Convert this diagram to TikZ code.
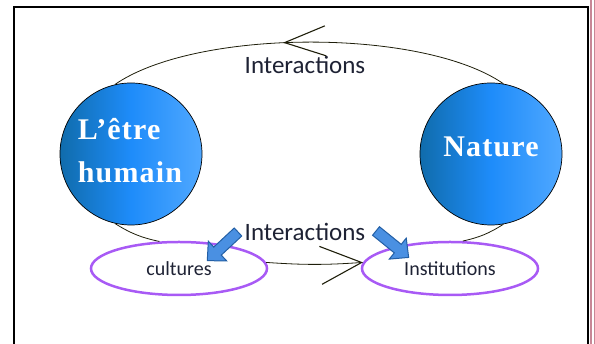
\documentclass[tikz,border=0pt]{standalone}
\usepackage{fontspec}
\setmainfont{Carlito}
\newfontfamily\titlefont{Liberation Serif}[LetterSpace=4]
\usetikzlibrary{shapes.geometric,arrows.meta,decorations.markings}
\definecolor{bdark}{RGB}{16,108,172}
\definecolor{bmid}{RGB}{30,140,250}
\definecolor{blight}{RGB}{80,168,255}
\definecolor{ellcol}{RGB}{168,90,245}
\definecolor{txtcol}{RGB}{30,34,52}
\definecolor{arrfill}{RGB}{74,144,226}
\definecolor{arrdraw}{RGB}{35,95,165}
\definecolor{pinkline}{RGB}{200,135,150}
\definecolor{loopcol}{RGB}{30,30,10}
\begin{document}
\begin{tikzpicture}[x=1pt,y=1pt,
  bigcirc/.style={circle, draw=black, line width=0.7pt, minimum size=142pt, inner sep=0pt,
    left color=bdark, right color=blight, middle color=bmid},
  circtext/.style={text=white, inner sep=0pt, font=\titlefont\bfseries\fontsize{30}{43}\selectfont},
  ellnode/.style={ellipse, draw=ellcol, line width=2.5pt, minimum width=176pt, minimum height=53pt,
    inner sep=0pt, text=txtcol, font=\fontsize{20}{24}\selectfont},
  lbl/.style={text=txtcol, font=\fontsize{25}{30}\selectfont, inner sep=0pt},
  loopline/.style={draw=loopcol, line width=0.8pt},
  blockfill/.style={draw=arrdraw, fill=arrfill, line width=1pt, line join=miter},
  blockarr/.pic={\draw[blockfill] (0,-5.5) -- (28,-5.5) -- (28,-13.5) -- (42,0)
      -- (28,13.5) -- (28,5.5) -- (0,5.5) -- cycle;},
  frameline/.style={draw=black, line width=1.8pt},
  pinkrule/.style={draw=pinkline, line width=1.2pt}
]
\useasboundingbox (0,0) rectangle (595,344);
% frame
\draw[frameline] (14,-3) -- (14,337) -- (588,337) -- (588,-3);
\draw[pinkrule] (591,-3) -- (591,347);
\draw[pinkrule] (594.5,-3) -- (594.5,347);

% circles
\node[bigcirc] (hum) at (131,190) {};
\node[bigcirc] (nat) at (491,190) {};
\node[circtext, align=left] (humtxt) at (130,193) {L’être\\humain};
\node[circtext] (nattxt) at (491,197) {Nature};

% ellipses
\node[ellnode] (cul) at (179,75.5) {cultures};
\node[ellnode] (inst) at (450,75.5) {Institutions};

% loop connectors
\draw[loopline,
  decoration={markings, mark=at position 0.435 with {\arrowreversed[line width=1.1pt]{Straight Barb[length=41pt,width=30pt]}}},
  postaction={decorate}]
  (hum.103) .. controls +(81,56) and +(-81,56) .. (nat.80);
\draw[loopline] (hum.257) to[bend right=10] (cul.126);
\draw[loopline] (nat.280) to[bend left=10] (inst.65);
\draw[loopline, -{Straight Barb[length=41pt,width=38pt,line width=1.1pt]}] (cul.4) to[bend right=4] (inst.176);

% labels
\node[lbl] (toplbl) at (305,279) {Interactions};
\node[lbl] (botlbl) at (305,112) {Interactions};

% block arrows
\pic[rotate=223] (barL) at (238,112) {blockarr};
\pic[rotate=321] (barR) at (376,113) {blockarr};
\end{tikzpicture}
\end{document}
